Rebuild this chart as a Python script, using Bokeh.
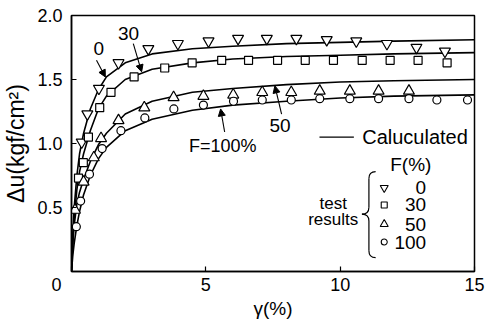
from bokeh.plotting import figure
from bokeh.models import Range1d, FixedTicker, Arrow, NormalHead
from bokeh.core.properties import value
from bokeh.embed import file_html
from bokeh.resources import INLINE

FONT = "Liberation Sans"

# ---- calculated curves ----
calc_x = [0, 0.05, 0.1, 0.2, 0.3, 0.45, 0.7, 1.0, 1.3, 2.0, 3.0, 4.5, 6.0, 8.0, 10.0, 12.0, 15.0]
calc_f0 = [0, 0.30, 0.50, 0.75, 0.92, 1.08, 1.27, 1.42, 1.52, 1.63, 1.70, 1.74, 1.76, 1.78, 1.79, 1.80, 1.81]
calc_f30 = [0, 0.25, 0.42, 0.64, 0.78, 0.92, 1.10, 1.27, 1.37, 1.50, 1.58, 1.63, 1.66, 1.68, 1.69, 1.70, 1.71]
calc_f50 = [0, 0.22, 0.36, 0.53, 0.62, 0.72, 0.86, 0.99, 1.08, 1.23, 1.33, 1.40, 1.43, 1.46, 1.48, 1.49, 1.50]
calc_f100 = [0, 0.13, 0.22, 0.36, 0.47, 0.60, 0.75, 0.88, 0.97, 1.10, 1.19, 1.26, 1.30, 1.33, 1.355, 1.37, 1.38]

# ---- test results ----
f0_x = [0.38, 0.59, 1.02, 1.75, 2.86, 3.96, 5.1, 6.2, 7.27, 8.37, 9.5, 10.6, 11.74, 12.84, 13.9]
f0_y = [1.01, 1.23, 1.43, 1.63, 1.74, 1.78, 1.80, 1.82, 1.82, 1.82, 1.81, 1.80, 1.78, 1.75, 1.72]

f30_x = [0.26, 0.44, 0.63, 1.05, 1.47, 2.33, 3.47, 4.49, 5.59, 6.59, 7.67, 8.7, 9.75, 10.82, 11.86, 12.9, 13.98]
f30_y = [0.73, 0.85, 1.05, 1.28, 1.40, 1.52, 1.59, 1.63, 1.65, 1.65, 1.65, 1.65, 1.65, 1.65, 1.65, 1.65, 1.63]

f50_x = [0.13, 0.45, 0.83, 1.1, 1.75, 2.71, 3.8, 4.91, 6.02, 7.1, 8.18, 9.24, 10.36, 11.43, 12.56]
f50_y = [0.48, 0.70, 0.89, 1.04, 1.18, 1.28, 1.36, 1.37, 1.38, 1.40, 1.40, 1.41, 1.41, 1.41, 1.41]

f100_x = [0.18, 0.34, 0.67, 1.14, 1.84, 2.73, 3.81, 4.91, 6.03, 7.1, 8.18, 9.24, 10.36, 11.43, 12.56, 13.6, 14.74]
f100_y = [0.35, 0.55, 0.76, 0.96, 1.10, 1.20, 1.27, 1.30, 1.33, 1.34, 1.34, 1.35, 1.35, 1.35, 1.35, 1.34, 1.34]

x_ticks = [0, 5, 10, 15]
x_tick_labels = ["0" + "\u00a0" * 6, "5", "10", "15"]
y_ticks = [0.5, 1.0, 1.5, 2.0]
y_tick_labels = ["0.5", "1.0", "1.5", "2.0"]
legend_values = ["0", "30", "50", "100"]
legend_markers = ["inverted_triangle", "square", "triangle", "circle"]

p = figure(width=488, height=321, x_range=Range1d(0, 15), y_range=Range1d(0, 2.0),
           output_backend="svg", toolbar_location=None,
           min_border_left=69, min_border_right=14, min_border_top=15, min_border_bottom=48)
p.xgrid.visible = False
p.ygrid.visible = False
p.outline_line_color = "black"
p.outline_line_width = 1.5
p.background_fill_color = "white"
p.border_fill_color = "white"

for ax in (p.xaxis, p.yaxis):
    ax.major_tick_in = 5
    ax.major_tick_out = 0
    ax.minor_tick_line_color = None
    ax.axis_line_width = 1.5
    ax.major_tick_line_width = 1.2
    ax.major_label_text_font = FONT
    ax.major_label_text_font_size = "18px"
    ax.major_label_text_color = "black"
    ax.axis_label_text_font = FONT
    ax.axis_label_text_font_style = "normal"
    ax.axis_label_text_color = "black"

p.xaxis.ticker = FixedTicker(ticks=x_ticks)
p.xaxis.major_label_overrides = {t: s for t, s in zip(x_ticks, x_tick_labels)}
p.xaxis.major_label_standoff = 3
p.xaxis.axis_label = "γ(%)"
p.xaxis.axis_label_text_font_size = "19px"
p.xaxis.axis_label_standoff = 0

p.yaxis.ticker = FixedTicker(ticks=y_ticks)
p.yaxis.major_label_overrides = {t: s for t, s in zip(y_ticks, y_tick_labels)}
p.yaxis.major_label_standoff = 9
p.yaxis.axis_label = "Δu(kgf/cm²)"
p.yaxis.axis_label_text_font_size = "23px"
p.yaxis.axis_label_standoff = 5

# curves
for ys in (calc_f0, calc_f30, calc_f50, calc_f100):
    p.line(calc_x, ys, line_color="black", line_width=1.6)

# markers
common = dict(fill_color="white", line_color="black", line_width=1.2)
p.scatter(f0_x, f0_y, marker="inverted_triangle", size=11, **common)
p.scatter(f30_x, f30_y, marker="square", size=8, **common)
p.scatter(f50_x, f50_y, marker="triangle", size=11, **common)
p.scatter(f100_x, f100_y, marker="circle", size=8, **common)

def txt(x, y, s, size="19px", align="center"):
    p.text([x], [y], text=[s], text_font=value(FONT), text_font_size=value(size),
           text_align=align, text_baseline="middle", text_color="black")

# curve labels with arrows
head = dict(size=7, fill_color="black", line_color="black")
txt(1.02, 1.74, "0")
p.add_layout(Arrow(end=NormalHead(**head), x_start=0.93, y_start=1.65, x_end=1.26, y_end=1.52, line_width=1.1))
txt(2.12, 1.86, "30")
p.add_layout(Arrow(end=NormalHead(**head), x_start=2.30, y_start=1.78, x_end=2.61, y_end=1.56, line_width=1.1))
txt(7.76, 1.14, "50")
p.add_layout(Arrow(end=NormalHead(**head), x_start=7.82, y_start=1.23, x_end=7.57, y_end=1.45, line_width=1.1))
txt(5.63, 0.98, "F=100%", size="18px")
p.add_layout(Arrow(end=NormalHead(**head), x_start=5.70, y_start=1.09, x_end=5.55, y_end=1.27, line_width=1.1))

# legend
p.segment(x0=[9.23], y0=[1.05], x1=[10.51], y1=[1.05], line_color="black", line_width=1.4)
txt(10.82, 1.05, "Caluculated", size="20px", align="left")
txt(12.63, 0.834, "F(%)")
leg_y = [0.654, 0.52, 0.37, 0.23]
leg_sizes = [8, 6, 8, 6]
for m, yy, sz, lab in zip(legend_markers, leg_y, leg_sizes, legend_values):
    p.scatter([11.64], [yy], marker=m, size=sz, fill_color="white", line_color="black", line_width=1.1)
    txt(13.2, yy, lab, size="19px", align="right")
txt(9.74, 0.533, "test", size="17px")
txt(9.74, 0.404, "results", size="17px")

# brace
bk = dict(line_color="black", line_width=1.2)
p.quadratic(x0=[11.32, 11.07, 10.81, 11.07], y0=[0.780, 0.502, 0.448, 0.162],
            x1=[11.07, 10.81, 11.07, 11.32], y1=[0.726, 0.448, 0.394, 0.108],
            cx=[11.07, 11.07, 11.07, 11.07], cy=[0.780, 0.448, 0.448, 0.108], **bk)
p.segment(x0=[11.07, 11.07], y0=[0.726, 0.394], x1=[11.07, 11.07], y1=[0.502, 0.162], **bk)

open("out.html", "w").write(file_html(p, INLINE))
